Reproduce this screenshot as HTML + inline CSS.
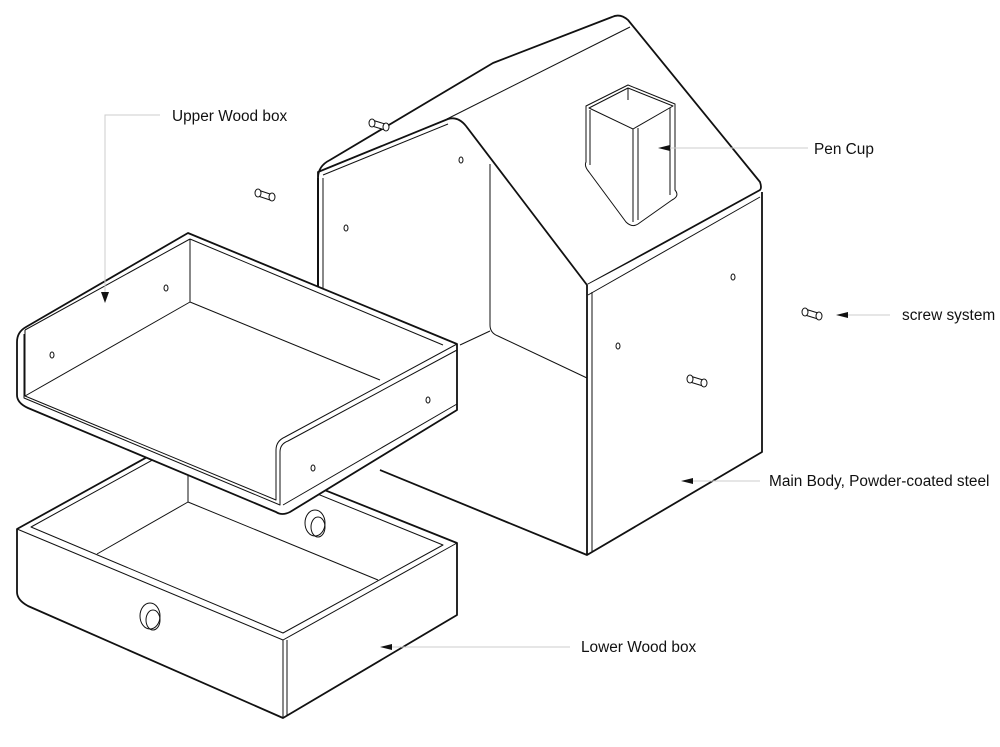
<!DOCTYPE html>
<html><head><meta charset="utf-8"><style>
html,body{margin:0;padding:0;background:#fff;}
svg{display:block}
text{font-family:"Liberation Sans",sans-serif;font-size:15.4px;fill:#111}
</style></head><body>
<svg width="1000" height="747" viewBox="0 0 1000 747" xmlns="http://www.w3.org/2000/svg">
<g fill="none" stroke="#111" stroke-width="1" stroke-linejoin="round">
<path d="M318,172 L448,119 Q458,116 466,126 L587,285 L760,190 Q762,188 760,182 L628,20 Q620,13 612,17 L493,63 L330,160 Q318,166 318,178 Z" fill="#fff" stroke-width="1.8"/>
<path d="M587,285 L587,555 L762,452 L762,192" fill="#fff" stroke-width="1.8"/>
<path d="M318,178 L318,300" stroke-width="2"/>
<path d="M323,178 L323,300"/>
<path d="M323,175 L448,124"/>
<path d="M447,119 L630,27"/>
<path d="M588,295 L760,197"/>
<path d="M490,164 L490,325 Q490,333 498,336 L587,378"/>
<path d="M490,331 L460,345"/>
<path d="M380,470 L587,555" stroke-width="1.8"/>
<path d="M592,292 L592,552"/>
<ellipse cx="461" cy="160" rx="2" ry="3"/>
<ellipse cx="346" cy="228" rx="2" ry="3"/>
<ellipse cx="618" cy="346" rx="2" ry="3"/>
<ellipse cx="733" cy="277" rx="2" ry="3"/>
<path d="M586,162 L586,106 L628,85 L675,104 L675,190 Q680,196 672,200 L638,224 Q632,228 626,222 L589,172 Q584,166 586,162 Z" fill="#fff"/>
<path d="M589,108 L628,88 L673,106 L633,129 Z"/>
<path d="M633,129 L633,222 M628,88 L628,100 M590,110 L590,165 M670,108 L670,195 M638,128 L638,220"/>
<g fill="#fff">
<path d="M258,190 L270,194 L270,200 L258,196 Z"/><ellipse cx="258" cy="193" rx="3" ry="4"/><ellipse cx="272" cy="197" rx="3" ry="4"/>
<path d="M372,120 L385,124 L385,130 L372,126 Z"/><ellipse cx="372" cy="123" rx="3" ry="4"/><ellipse cx="386" cy="127" rx="3" ry="4"/>
<path d="M805,309 L818,313 L818,319 L805,315 Z"/><ellipse cx="805" cy="312" rx="3" ry="4"/><ellipse cx="819" cy="316" rx="3" ry="4"/>
<path d="M690,376 L703,380 L703,386 L690,382 Z"/><ellipse cx="690" cy="379" rx="3" ry="4"/><ellipse cx="704" cy="383" rx="3" ry="4"/>
</g>
<path d="M17,529 L187,435 L457,543 L457,615 L283,718 L28,606 Q17,600 17,592 Z" fill="#fff" stroke-width="1.8"/>
<path d="M17,529 L283,640 L457,543"/>
<path d="M31,527 L187,441 L443,545 L283,633 Z"/>
<path d="M97,554 L188,502 L378,580"/>
<path d="M188,441 L188,502"/>
<path d="M283,640 L283,718 M287,640 L287,716"/>
<ellipse cx="315" cy="523" rx="10" ry="13" fill="#fff"/><ellipse cx="318" cy="527" rx="7" ry="10"/>
<ellipse cx="150" cy="616" rx="10" ry="13" fill="#fff"/><ellipse cx="153" cy="620" rx="7" ry="10"/>
<path d="M188,233 L457,344 L457,410 L290,512 Q282,516 276,512 L28,408 Q17,403 17,395 L17,342 Q17,332 26,327 Z" fill="#fff" stroke-width="1.8"/>
<path d="M190,239 L443,345 M190,239 L25,330 M190,239 L190,302 L25,396 M190,302 L380,380"/>
<path d="M25,330 L25,396 L276,500 L276,450 Q276,441 285,437 L457,344"/>
<path d="M24,334 L24,398 L280,505 L280,452 Q280,444 288,441 L457,350"/>
<path d="M283,505 L457,404"/>
<ellipse cx="166" cy="288" rx="2" ry="3"/>
<ellipse cx="52" cy="355" rx="2" ry="3"/>
<ellipse cx="428" cy="400" rx="2" ry="3"/>
<ellipse cx="313" cy="468" rx="2" ry="3"/>
</g>
<g stroke="#ccc" stroke-width="1" fill="none">
<path d="M160,115 L105,115 L105,295"/>
<path d="M808,148 L670,148"/>
<path d="M890,315 L848,315"/>
<path d="M760,481 L692,481"/>
<path d="M570,647 L390,647"/>
</g>
<g fill="#111">
<path d="M101,292 L109,292 L105,303 Z"/>
<path d="M658,148 L670,145 L670,151 Z"/>
<path d="M836,315 L848,312 L848,318 Z"/>
<path d="M681,481 L693,478 L693,484 Z"/>
<path d="M380,647 L392,644 L392,650 Z"/>
</g>
<text x="172" y="121">Upper Wood box</text>
<text x="814" y="154">Pen Cup</text>
<text x="902" y="320">screw system</text>
<text x="769" y="486">Main Body, Powder-coated steel</text>
<text x="581" y="652">Lower Wood box</text>
</svg>
</body></html>
